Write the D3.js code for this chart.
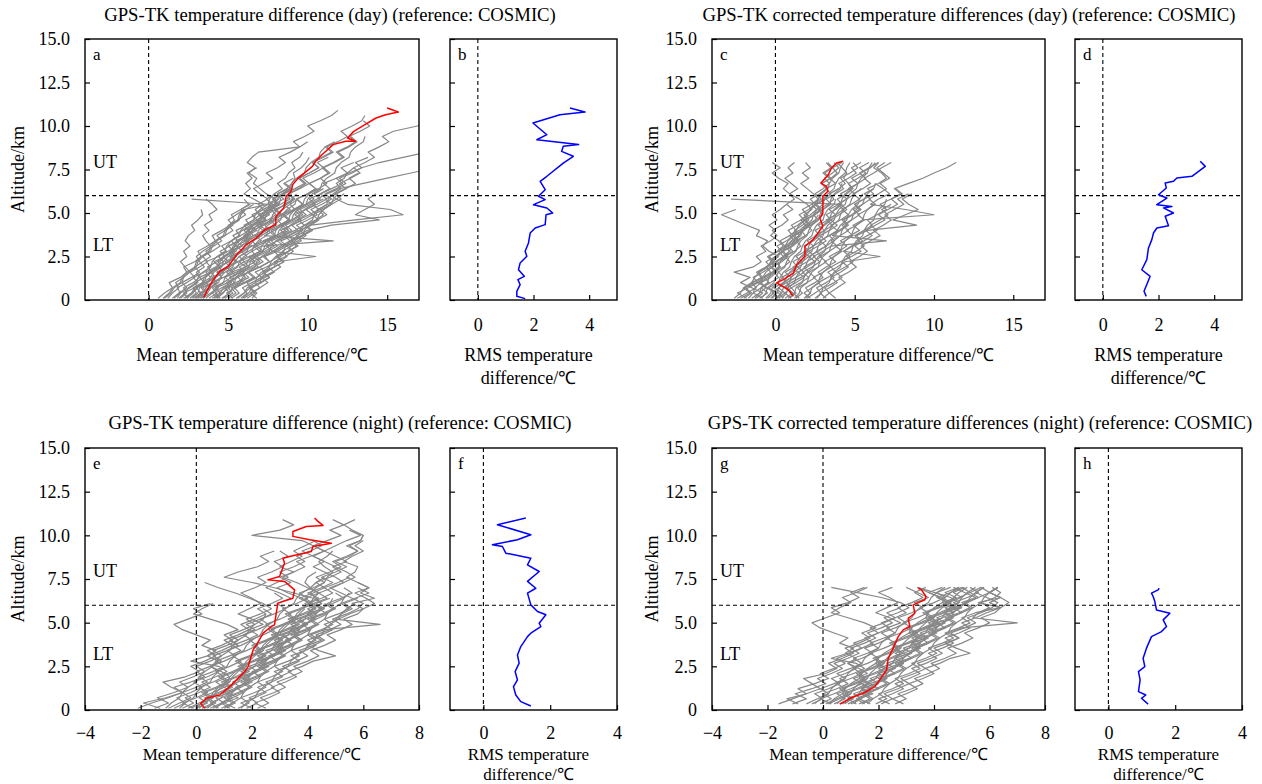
<!DOCTYPE html>
<html><head><meta charset="utf-8">
<script src="https://cdn.jsdelivr.net/npm/d3@7/dist/d3.min.js"></script>
<style>body{margin:0;background:#fff;} svg text{font-family:"Liberation Serif","Times New Roman",serif;fill:#000;}</style>
</head><body><svg id="chart" width="1262" height="784"></svg>
<script>
// ---------------- DATA ----------------
const altTicks = [0, 2.5, 5, 7.5, 10, 12.5, 15];
const ticksDayMean = [0, 5, 10, 15];
const ticksNightMean = [-4, -2, 0, 2, 4, 6, 8];
const ticksRms = [0, 2, 4];
const boundaryAlt = 6;

const titles = [
  "GPS-TK temperature difference (day) (reference: COSMIC)",
  "GPS-TK corrected temperature differences (day) (reference: COSMIC)",
  "GPS-TK temperature difference (night) (reference: COSMIC)",
  "GPS-TK corrected temperature differences (night) (reference: COSMIC)"
];
const meanLabel = ["Mean temperature difference/\u2103"];
const rmsLabel = ["RMS temperature", "difference/\u2103"];

// mean / RMS profiles [temperature difference, altitude km]
const meanDay = [[3.48,0.15],[3.65,0.5],[4.0,1.07],[4.48,1.65],[5.0,1.93],[5.63,2.7],[6.15,3.18],[6.77,3.56],[7.3,4.04],[8.0,4.33],[8.0,4.8],[8.5,5.29],[8.65,5.96],[8.96,6.25],[9.06,6.63],[9.4,7.0],[10.3,7.68],[10.5,7.97],[10.9,8.35],[11.6,8.93],[12.4,9.12],[13.0,9.12],[12.5,9.31],[12.9,9.69],[13.6,10.08],[14.3,10.46],[14.9,10.65],[15.7,10.8],[15.0,11.03]];
const rmsDay = [[1.70,0.08],[1.40,0.21],[1.40,0.5],[1.52,0.88],[1.44,1.17],[1.67,1.36],[1.46,1.74],[1.52,2.13],[1.76,2.51],[1.70,2.80],[1.82,3.28],[1.88,3.85],[2.06,4.14],[2.42,4.33],[2.45,4.90],[2.69,5.0],[2.48,5.29],[2.0,5.48],[2.42,5.77],[2.18,5.96],[2.42,6.34],[2.24,6.82],[2.48,7.11],[3.07,7.87],[3.43,8.26],[3.01,8.54],[3.07,8.83],[3.62,8.93],[2.12,9.21],[2.48,9.50],[1.98,10.17],[2.95,10.65],[3.85,10.80],[3.31,11.03]];
const meanDayCorr = [[1.13,0.21],[0.82,0.59],[0.08,0.98],[0.50,1.17],[1.13,1.55],[1.34,2.03],[1.86,2.51],[1.86,3.08],[2.38,3.47],[2.99,4.23],[2.80,4.71],[2.99,5.0],[2.99,5.96],[3.31,6.25],[3.22,6.53],[2.87,6.72],[3.33,7.2],[3.54,7.59],[3.64,7.68],[3.85,7.87],[4.27,7.97]];
const rmsDayCorr = [[1.56,0.21],[1.48,0.5],[1.70,1.36],[1.40,1.74],[1.58,2.32],[1.64,2.99],[1.76,3.47],[1.82,3.85],[1.94,4.14],[2.36,4.27],[2.24,4.81],[2.54,5.0],[2.18,5.29],[2.48,5.38],[1.94,5.48],[2.30,5.86],[2.0,6.05],[2.28,6.44],[2.24,6.72],[2.54,6.82],[2.66,7.01],[3.20,7.11],[3.68,7.68],[3.50,7.97]];
const meanNight = [[0.30,0.10],[0.16,0.38],[0.36,0.67],[0.84,0.86],[1.20,1.34],[1.56,1.91],[1.74,2.20],[1.86,2.48],[2.04,3.44],[2.16,3.73],[2.40,4.40],[2.69,4.78],[2.81,4.87],[2.87,5.54],[2.93,6.12],[3.47,6.40],[3.53,6.88],[3.17,7.36],[2.57,7.45],[2.99,7.64],[3.17,8.41],[3.11,8.69],[3.35,8.79],[4.13,9.08],[4.19,9.36],[4.85,9.55],[4.07,9.75],[3.47,9.94],[3.47,10.22],[3.95,10.51],[4.55,10.57],[4.37,10.80],[4.25,10.99]];
const rmsNight = [[1.42,0.23],[1.12,0.48],[0.97,0.86],[0.90,1.34],[1.02,1.72],[0.95,2.20],[1.07,2.68],[1.02,3.15],[1.12,3.63],[1.32,4.20],[1.42,4.40],[1.72,4.78],[1.67,4.97],[1.87,5.45],[1.62,5.64],[1.42,6.02],[1.32,6.69],[1.57,6.97],[1.32,7.36],[1.67,7.93],[1.32,8.31],[1.42,8.69],[0.67,8.98],[0.57,9.36],[0.27,9.46],[1.02,9.75],[1.42,10.03],[0.42,10.61],[1.27,10.99]];
const meanNightCorr = [[0.61,0.34],[0.97,0.67],[1.45,0.96],[1.87,1.34],[2.17,2.01],[2.29,2.29],[2.35,2.96],[2.53,3.54],[2.71,4.20],[2.89,4.59],[3.13,4.78],[3.07,5.25],[3.31,5.54],[3.25,6.02],[3.67,6.31],[3.71,6.50],[3.55,6.88],[3.43,6.97]];
const rmsNightCorr = [[1.19,0.34],[0.99,0.67],[1.12,0.86],[0.90,1.05],[0.95,1.72],[0.90,2.20],[1.09,2.48],[1.04,2.96],[1.14,3.54],[1.29,4.20],[1.59,4.49],[1.74,4.78],[1.64,5.16],[1.84,5.54],[1.44,5.73],[1.39,6.21],[1.34,6.50],[1.29,6.69],[1.49,6.88],[1.52,6.97]];

// individual profiles: temperature difference at successive altitude levels
const levelsDay = {start: 0.1, step: 0.3};
const levelsNight = {start: 0.1, step: 0.3};
const levelsNightCorr = {start: 0.35, step: 0.29};

const grayDay = [
[0.6,1.0,1.5,1.3,2.0,2.4,2.2,2.9,3.3,3.1,3.7,4.2,4.0,4.6,5.1,5.4,5.2,5.8,6.3,6.0],
[1.8,2.0,2.6,3.1,2.8,3.5,3.9,3.6,4.4,4.9,4.6,5.2,5.7,5.5,6.2,6.8,6.5,7.2,7.8,7.4,8.0],
[2.5,2.2,2.9,3.5,3.2,3.9,4.5,4.1,4.8,5.4,5.0,5.7,6.3,6.0,6.6,7.3,6.9,7.6,8.1,7.8,8.5,9.0,8.6],
[3.0,3.6,3.3,4.0,4.6,4.3,5.1,5.6,5.2,6.0,6.5,6.1,6.9,7.4,7.0,7.8,8.3,7.9,8.7,9.2,8.8,9.5,10.1,9.7,10.4,11.0,10.6,11.3],
[4.0,4.5,4.2,5.0,5.6,5.2,6.1,6.7,6.3,7.1,7.6,7.2,8.0,8.6,8.2,9.0,9.5,9.1,9.9,10.4,10.0,10.7,11.2,10.8],
[5.0,5.5,5.2,6.0,6.6,6.2,7.0,7.6,7.3,8.1,8.7,8.3,9.1,9.7,9.3,10.0,10.6,10.2,10.9,11.5,11.1,11.8,12.4,12.0,12.8,13.4,13.0,13.8],
[6.5,6.8,6.4,7.1,7.6,7.2,7.9,8.5,8.0,8.8,9.3,8.9,9.6,10.2,9.8,10.5,11.0,10.6,11.3,11.8,11.4],
[4.5,4.2,4.9,5.4,5.1,5.8,6.3,6.0,6.7,7.2,6.8,7.5,8.0,7.7,8.4,8.9,8.5,9.2,9.7,9.3,10.0,10.5,10.1,10.8,11.3,10.9,11.6,12.2,11.8,12.5,13.0,12.6,13.3,13.9,13.5],
[1.2,1.5,1.9,1.7,2.2,2.6,2.3,2.0,2.4,2.2,2.6,2.3,2.5,2.9,2.7,3.1,3.4,3.3],
[2.0,2.4,2.2,2.8,3.2,3.0,3.5,3.2,3.0,3.4,3.9,3.6,3.4,3.8,3.5,4.0,3.8,4.3,4.0,3.6],
[3.5,3.2,3.8,4.3,4.0,4.6,5.1,4.8,5.4,5.9,5.5,6.1,6.6,6.3,6.9,7.4,7.0,7.7,8.2,7.8,8.4,8.9,8.5,9.1],
[2.8,3.3,3.9,3.6,4.1,4.7,4.4,5.0,5.5,5.1,5.8,6.3,6.0,6.6,7.2,6.8,7.4,8.0,7.6,8.2],
[4.8,5.3,5.0,5.7,6.3,5.9,6.6,7.2,6.8,7.5,8.1,7.7,8.4,9.0,8.6,9.3,9.9,9.5,10.2,10.8,10.4,11.0],
[5.8,6.2,5.9,6.5,7.1,6.7,7.4,8.0,10.5,7.8,8.3,8.9,8.5,9.2,9.8,9.4,10.1,10.7,10.3,11.0],
[4.2,4.6,5.1,4.9,5.5,6.0,5.7,6.3,6.8,6.5,7.1,11.6,7.3,7.9,8.4,8.1,8.7,9.2,8.9,9.4],
[5.5,6.0,6.4,6.2,6.8,7.3,7.0,7.6,8.2,7.9,8.5,9.1,8.8,9.5,10.2,13.0,16.0,15.2,12.5,11.8,12.3],
[6.0,6.5,7.0,6.7,7.3,7.9,7.5,8.2,8.7,8.4,9.0,9.6,9.3,10.0,11.5,14.5,13.0,13.6,14.2,13.8,14.3],
[3.8,4.3,4.0,4.7,5.2,4.9,5.5,6.0,5.7,6.3,6.8,6.5,7.1,7.6,7.3,7.9,8.4,8.0,8.6,9.1,8.8,9.4,9.9,9.5,10.1,10.7,10.3,10.9,11.5,11.1,11.7],
[2.2,2.7,3.1,2.9,3.5,4.0,3.7,4.3,4.8,4.5,5.1,5.6,5.3,5.9,6.4,6.1,6.7,7.2,6.9,7.5,7.0,6.6,7.2,7.8,7.4,8.1,8.6,8.2,8.9,9.5,9.1,9.8,10.4,10.0,10.8,11.5,11.9],
[6.8,6.4,7.0,7.5,7.1,7.8,8.3,7.9,8.6,9.1,8.7,9.4,9.9,9.5,10.2,10.7,10.3,11.0,11.5,11.1,11.8,12.4,12.0,12.7,13.3,12.9,13.6,14.2,13.8,14.5,15.1,14.7,15.4,16.9,17.6],
[5.2,5.7,5.4,6.1,6.7,6.3,7.0,7.6,7.2,7.9,8.5,8.1,8.8,9.4,9.0,9.7,10.3,9.9,10.6,11.2,10.8,11.5,12.2,11.8,12.6,13.4,14.5,16.0,17.5],
[4.6,5.1,4.8,5.5,6.1,5.7,6.4,7.0,6.6,7.3,7.9,7.5,8.2,8.8,8.4,9.1,9.7,9.3,10.0,10.6,11.2,12.0,13.5,15.0,16.5,18.0],
[3.2,3.7,3.4,4.1,4.6,4.3,4.9,5.5,5.1,5.8,6.3,6.0,6.6,7.2,6.8,7.5,8.0,7.7,8.3,8.9,8.5,9.2,9.8,9.4,10.1,10.7,10.3,11.0,11.6,11.2,11.9,12.5,12.1,12.8,13.4,13.6],
[4.4,4.0,4.6,5.2,4.8,5.5,6.1,5.7,6.4,7.0,6.6,7.3,7.9,7.5,8.2,8.8,8.4,9.1,9.7,9.3,10.0,10.5,10.1,10.8,11.4,11.0,11.7,12.3,11.9,12.6,13.1,12.7],
[3.0,3.4,3.9,3.6,4.2,4.7,4.4,5.0,5.5,5.2,5.8,6.3,6.0,6.6,7.1,6.8,7.3,7.8,7.5,8.0,7.4,7.0,6.6,6.8,6.3,6.7,6.2,6.5,6.9,9.5,10.0],
[2.6,3.0,2.8,3.4,3.9,3.6,4.2,4.7,4.4,5.0,5.5,5.2,5.8,6.3,6.0,6.6,7.0,6.7,7.2,6.6,6.0,6.4,6.1,6.5,6.2,6.8],
[1.5,1.9,2.4,2.1,2.7,3.2,2.9,3.4,3.9,3.6,4.1,4.6,4.3,4.8,5.3,5.0,5.5,6.0,7.5,2.7],
[2.9,3.3,3.0,3.7,4.2,3.9,4.5,5.0,4.7,5.3,5.9,5.5,6.2,6.8,6.4,7.0,7.6,7.2,7.9,8.5,8.1,8.8],
[5.3,4.9,5.5,6.0,5.6,6.3,6.9,6.5,7.2,7.8,7.4,8.1,8.7,8.3,9.0,9.6,9.2,9.9,10.5,10.1,10.8,11.4,11.0,11.8,12.5,12.1,12.9],
[3.4,3.9,4.4,4.1,4.7,5.3,4.9,5.6,6.2,5.8,6.5,7.1,6.7,7.4,8.0,7.6,8.3,8.9,8.5,9.2],
[1.6,2.0,1.8,2.4,2.9,2.6,3.2,3.7,3.4,4.0,4.5,4.2,4.8,5.3,5.0,5.6,6.1,5.8,6.4],
[6.2,6.7,6.3,7.0,7.6,7.2,7.9,8.5,8.1,8.8,9.4,9.0,9.7,10.3,9.9,10.6,11.2,10.8,11.5,12.1,11.7,12.4,13.0,12.6,13.2],
[2.3,2.7,2.9,3.4,3.5,3.8,4.3,4.4,4.7,5.2,5.3,5.6,6.1,6.2,6.5,7.0,7.1,7.4,7.9,8.0],
[3.1,3.4,3.6,4.1,4.2,4.5,5.0,5.1,5.4,5.9,6.0,6.3,6.8,6.9,7.2,7.7,7.8,8.1,8.6,8.7,9.0],
[1.0,1.4,1.6,2.1,2.2,2.5,3.0,3.1,3.4,3.9,4.0,4.3,4.8,4.9,5.2,5.7,5.8,6.1,6.6],
[4.1,4.5,4.7,5.2,5.3,5.6,6.1,6.2,6.5,7.0,7.1,7.4,7.9,8.0,8.3,8.8,8.9,9.2,9.7,9.8,10.1,10.6],
[2.7,3.1,3.2,3.7,3.9,4.1,4.6,4.7,5.0,5.5,5.6,5.9,6.4,6.5,6.8,7.3,7.4,7.7,8.2,8.3,8.1,8.7,9.0,9.2,9.1,9.6,9.9,10.1],
[3.6,4.0,4.2,4.7,4.8,5.1,5.6,5.7,6.0,6.5,6.6,6.9,7.4,7.5,7.8,8.3,8.4,8.7,9.2,9.3],
[5.6,6.0,6.2,6.7,6.8,7.1,7.6,7.7,8.0,8.5,8.6,8.9,9.4,9.5,9.8,10.3,10.4,10.7,11.2,11.3,11.6,12.1,11.8,12.3,12.5,12.9],
[1.9,2.3,2.5,3.0,3.1,3.4,3.9,4.0,4.3,4.8,4.9,5.2,5.7,5.8,6.1,6.6,6.7,7.0,7.5,7.6,7.9,8.4,8.1,8.6,8.8,9.2,9.0,9.5,9.7],
[4.7,5.1,5.3,5.8,5.9,6.2,6.7,6.8,7.1,7.6,7.7,8.0,8.5,8.6,8.9,9.4,9.5,9.8,10.3],
[2.4,2.8,3.0,3.5,3.6,3.9,4.4,4.5,4.8,5.3,5.4,5.7,6.2,6.3,6.6,7.1,7.2,7.5,8.0,8.1,8.4,8.9,9.0,9.3,9.8,9.9,10.2,10.7,10.8,11.1],
[3.3,3.7,3.9,4.4,4.5,4.8,5.3,5.4,5.7,6.2,6.3,6.6,7.1,7.2,7.5,8.0,8.1,8.4,8.9,9.0,9.3],
[0.9,1.3,1.5,2.0,2.1,2.4,2.9,3.0,3.3,3.8,3.9,4.2,4.7,4.8,5.1,5.6,5.7,6.0],
[5.9,6.3,6.5,7.0,7.1,7.4,7.9,8.0,8.3,8.8,8.9,9.2,9.7,9.8,10.1,10.6,10.7,11.0,11.5,11.6,11.9],
[4.3,4.7,4.9,5.4,5.5,5.8,6.3,6.4,6.7,7.2,7.3,7.6,8.1,8.2,8.5,9.0,9.1,9.4,9.9,10.0,10.3,10.8,10.9,11.2,11.7,11.8,12.1,12.6,12.7,13.0,13.5,13.6]
];

const grayDayCorr = [
[-2.4,-1.8,-1.2,-1.5,-0.8,-0.3,-0.6,0.1,0.5,0.2,0.8,1.2,0.9,1.5,1.9,1.6,2.2,2.6,2.3,2.9,2.5,3.0,3.4,3.1,3.6,4.0,3.7],
[-1.2,-0.8,-1.5,-2.2,-1.6,-2.6,-1.4,-0.9,-1.2,-0.6,-0.9,-0.3,0.1,-0.2,0.4,0.8,0.5,1.1,0.7,1.2,0.9,1.4,1.0,0.6,1.1,0.8,1.2],
[0.5,0.2,-0.5,-1.1,-0.7,-0.2,0.3,0.0,0.6,1.1,0.8,1.4,1.9,1.6,2.2,2.7,2.4,3.0,3.5,3.2,3.8,4.3,4.0,4.6,5.1,4.8,5.4],
[1.5,1.1,0.6,1.0,1.6,2.1,1.8,2.4,2.9,2.6,3.2,3.7,3.4,4.0,4.5,4.2,4.8,5.3,5.0,5.6,6.2,5.8,6.5,7.0,6.7,6.2,6.5],
[2.5,2.9,2.6,3.2,3.7,3.3,3.9,4.4,6.6,4.3,4.8,5.3,5.0,5.6,6.1,5.8,6.4,7.0,6.6,7.3,7.9,7.5,8.4,9.3,10.0,10.8,11.4],
[0.8,1.3,1.0,1.6,2.1,1.7,2.3,2.8,2.4,3.0,3.5,7.0,3.6,4.1,4.6,4.3,4.9,5.4,5.0,5.6],
[1.8,2.2,1.9,2.5,3.0,2.7,3.2,3.8,3.4,4.0,4.5,4.1,4.7,5.3,4.9,5.5,10.0,8.2,6.0,6.5,7.2,6.8,6.3],
[2.0,2.5,3.0,2.7,3.3,3.8,3.5,4.1,4.7,4.3,4.9,5.5,5.1,5.8,8.9,7.4,8.2,9.0,8.4,8.0,8.6],
[-0.5,-0.1,-0.4,0.1,0.5,0.2,0.0,-0.3,0.2,-0.4,-0.8,-0.5,-1.2,-1.0,-1.8,-2.6,-3.4,-2.5],
[0.2,0.6,1.0,0.7,1.3,1.8,1.4,2.0,2.5,2.1,2.7,3.2,2.8,3.4,3.9,3.5,4.0,4.5,4.1,-2.8],
[-1.5,-1.0,-0.6,-0.9,-0.3,0.1,-0.2,0.4,0.8,0.5,1.1,1.5,1.2,1.8,2.2,1.9,2.5,2.9,2.6,3.2,2.8,3.3,2.9,3.5,3.1,3.6,3.3],
[-0.8,-1.4,-0.9,-0.4,-0.7,-0.1,0.3,0.0,0.5,0.9,0.6,1.1,1.5,1.2,1.7,2.1,1.8,2.3,2.0,1.5,0.9,0.5,0.8,0.2,-0.2,0.3,-0.2],
[3.0,3.4,3.1,3.7,4.2,3.8,4.4,4.9,4.5,5.1,5.6,5.2,5.8,6.4,6.0,6.6,7.1,6.7,7.3],
[0.0,0.4,-0.1,0.5,1.0,0.6,1.2,1.7,1.3,1.9,2.4,2.0,2.6,3.1,2.7,3.3,3.8,3.4,4.0,4.5,4.1,4.7,5.2,4.8,5.4,6.0,6.3],
[-2.0,-1.5,-1.9,-1.2,-0.8,-1.1,-0.5,-0.1,-0.4,0.2,0.6,0.3,0.9,1.3,1.0,1.6,2.0,1.7,2.3,2.7,2.4,2.0,1.6,2.1,1.7,2.2,1.9],
[1.0,0.6,0.2,0.5,1.0,1.4,1.1,1.7,2.1,1.8,2.4,2.9,2.5,3.1,3.6,3.2,3.8,4.3,3.9,4.5,5.0,4.6,5.2,5.7,5.3,5.9,6.5],
[3.8,3.4,3.9,4.4,4.0,4.6,5.1,4.7,5.3,5.8,5.4,6.0,6.6,6.2,6.8,7.3,6.9,7.5,8.1,7.7,8.4],
[-1.8,-2.4,-1.7,-1.1,-1.4,-0.8,-0.3,-0.6,0.0,0.4,0.1,0.7,1.1,0.8,1.4,1.8,1.5,2.1,2.5,2.2,2.8,3.2,2.9,3.5,3.9,3.6,4.2],
[0.3,-0.2,0.2,0.7,0.4,1.0,1.4,1.1,1.7,2.1,1.8,2.4,2.8,2.5,3.1,3.5,3.2,3.8,4.2,3.9,4.5,4.9,4.6,5.2,5.7,5.3,5.9],
[-2.2,-1.6,-2.0,-1.4,-0.9,-1.2,-0.6,-0.2,-0.5,0.1,0.5,0.2,-0.3,0.0,-0.4,0.1,-0.2,0.3,0.7],
[2.2,1.8,2.3,2.8,2.4,3.0,3.5,3.1,3.7,4.2,3.8,4.4,4.9,4.5,5.1,5.6,5.2,5.8,6.3,5.9,6.5,7.0,6.6,7.2,6.8,6.4,6.9],
[-0.3,0.1,-0.6,-1.0,-0.5,0.0,-0.3,0.3,0.7,0.4,1.0,1.4,1.1,1.7,2.1,1.8,2.4,2.8,2.5,3.1,3.5,3.2,3.8,3.4,3.0,3.5,3.2],
[1.3,1.7,1.4,2.0,2.5,2.1,2.7,3.2,2.8,3.4,3.9,3.5,4.1,4.6,4.2,4.8,5.3,4.9,5.5,6.0,5.6,6.2],
[-1.0,-0.5,-0.9,-0.3,0.2,-0.1,0.5,0.9,0.6,1.2,1.6,1.3,1.9,2.3,2.0,2.6,3.0,2.7,3.3,3.7,3.4,4.0,4.4,4.1,4.7,5.2,4.9],
[3.2,2.8,3.4,3.9,3.5,4.1,4.6,4.2,4.8,5.4,5.0,5.6,6.1,5.7,6.3,6.9,6.5,7.1,7.7,7.3,8.0,7.6],
[0.6,1.1,0.7,1.3,1.8,1.4,2.0,2.5,2.1,2.7,3.2,2.8,3.4,3.9,3.5,4.1,4.6,4.2,4.8,5.3,4.9,5.5,6.0,5.6,6.2,6.7,7.3],
[-0.6,-0.3,-0.2,0.2,0.3,0.5,0.9,1.0,1.2,1.6,1.7,1.9,2.3,2.4,2.6,3.0,3.1,3.3,3.7,3.8],
[0.9,1.2,1.3,1.7,1.8,2.0,2.4,2.5,2.7,3.1,3.2,3.4,3.8,3.9,4.1,4.5,4.6,4.8,5.2,5.3,5.5],
[-1.3,-1.0,-0.9,-0.5,-0.4,-0.2,0.2,0.3,0.5,0.9,1.0,1.2,1.6,1.7,1.9,2.3,2.4,2.6,3.0,3.1,3.3,3.7,3.8,4.0,4.4,4.5,4.7],
[1.9,2.2,2.3,2.7,2.8,3.0,3.4,3.5,3.7,4.1,4.2,4.4,4.8,4.9,5.1,5.5,5.6,5.8,6.2],
[-0.2,0.1,0.2,0.6,0.7,0.9,1.3,1.4,1.6,2.0,2.1,2.3,2.7,2.8,3.0,3.4,3.5,3.7,4.1,4.2,4.4,4.8,4.6,4.3,4.5,4.2,3.9],
[0.4,0.7,0.8,1.2,1.3,1.5,1.9,2.0,2.2,2.6,2.7,2.9,3.3,3.4,3.6,4.0,4.1,4.3,4.7,4.8,5.0,5.4],
[-1.7,-1.4,-1.3,-0.9,-0.8,-0.6,-0.2,-0.1,0.1,0.5,0.6,0.8,1.2,1.3,1.5,1.9,2.0,2.2,2.6,2.7,2.9,3.3,3.4,3.6,4.0,4.1,4.3],
[1.2,1.5,1.6,2.0,2.1,2.3,2.7,2.8,3.0,3.4,3.5,3.7,4.1,4.2,4.4,4.8,4.9,5.1,5.5,5.6,5.8,6.2,6.3],
[0.1,0.4,0.5,0.9,1.0,1.2,1.6,1.7,1.9,2.3,2.4,2.6,3.0,3.1,3.3,3.7,3.8,4.0,4.4,4.5,4.7,5.1,5.2,5.4,5.8,5.9,6.1],
[-2.6,-2.2,-2.0,-1.5,-1.3,-1.0,-0.5,-0.3,0.0,0.5,0.7,1.0,1.5,1.7,2.0,2.5,2.7],
[2.6,2.9,3.0,3.4,3.5,3.7,4.1,4.2,4.4,4.8,4.9,5.1,5.5,5.6,5.8,6.2,6.3,6.5,6.9,7.0],
[-0.9,-0.6,-0.5,-0.1,0.0,0.2,0.6,0.7,0.9,1.3,1.4,1.6,2.0,2.1,2.3,2.7,2.8,3.0,3.4,3.5,3.7,4.1,4.2]
];

const grayNight = [
[-2.1,-1.6,-1.0,-0.5,-0.8,-0.2,0.3,0.0,0.5,0.9,0.6,1.1,1.5,1.2,1.7,2.1,1.8,2.3,2.7,2.4],
[-1.3,-1.9,-1.1,-0.5,-0.9,-1.2,-0.4,0.1,-0.2,0.3,0.7,0.4,0.9,1.3,1.0,1.5,1.1,0.5,-0.1,0.2,0.6],
[0.2,0.6,0.3,0.8,1.2,0.9,1.4,1.8,1.5,2.0,2.4,2.1,2.6,3.0,2.7,3.2,3.6,3.3,3.8,4.2,3.9,4.4,4.0,4.5,4.9,4.5,5.0,5.4,5.0,5.5,5.8,5.4,5.9,6.0,5.6,5.3,5.7],
[1.0,1.4,1.1,1.6,2.0,1.7,2.2,2.6,2.3,2.8,3.2,2.9,3.4,3.8,3.5,4.0,4.4,4.1,4.6,5.0,4.7,5.2,5.6,5.3],
[-0.8,-0.4,-0.7,-0.2,0.2,-0.1,0.4,0.8,0.5,1.0,1.4,1.1,1.6,2.0,1.7,2.2,2.6,2.3,2.8,3.2,2.9,3.4,3.0,2.5,2.9,3.3,3.0,3.5,3.9,3.6,4.1,4.5,4.2],
[0.5,0.9,1.3,1.0,1.5,1.9,1.6,2.1,2.5,2.2,2.7,3.1,2.8,3.3,3.7,3.4,3.9,4.3,4.0,4.5,4.1,3.7,4.2,4.6,4.3,4.8,5.2,4.9,5.4,5.0,4.6,4.2,3.8,2.0,3.0,3.5,3.1],
[2.5,2.1,2.6,3.0,2.7,3.2,3.6,3.3,3.8,4.2,5.0,4.4,4.0,4.5,4.1,4.6,6.6,5.0,5.2,5.6,5.3,5.8],
[0.0,0.4,0.1,0.6,1.0,0.7,1.2,0.9,0.5,0.8,0.4,0.7,0.2,0.5,0.0,-0.5,-0.8,-0.3,0.2,-0.1,0.5],
[1.5,1.9,1.6,2.1,2.5,2.2,2.7,3.1,2.8,3.3,3.7,3.4,3.9,4.3,4.0,4.5,4.9,4.6,5.1,5.5,5.2,5.7,6.2,5.8],
[-0.3,0.1,0.5,0.2,0.7,1.1,0.8,1.3,1.7,1.4,1.9,2.3,2.0,2.5,2.9,2.6,3.1,3.5,3.2,3.7,4.1,3.8,3.3,2.9,3.4,3.0,3.5,3.9,3.6,4.1,4.6,4.2,4.7,5.2,4.8,5.3,4.9],
[0.8,0.5,0.9,1.3,1.0,1.5,1.9,1.6,2.1,2.5,2.2,2.7,3.1,2.8,3.3,3.7,3.4,3.9,4.3,4.0,4.5,4.2,3.5,2.8,2.0,1.0,1.5,2.2,2.6,2.3,2.8],
[-1.5,-1.0,-1.4,-0.8,-0.3,-0.6,-0.1,0.3,0.0,0.5,0.9,0.6,1.1,1.5,1.2,1.7,2.1,1.8,2.3,2.7,2.4,1.9,1.4,0.8,0.3],
[2.0,1.6,2.1,2.5,2.2,2.7,3.1,2.8,3.3,3.7,3.4,3.9,4.3,4.0,4.5,4.9,4.6,5.1,5.5,6.0,5.6,6.4,5.9,6.2,5.8,5.4,5.7,5.8,5.3,5.6,6.0,5.7,6.0],
[0.3,0.7,0.4,0.9,1.3,1.0,1.5,1.9,1.6,2.1,2.5,2.2,2.7,3.1,2.8,3.3,3.7,3.4,3.9,4.3,4.0,4.5,4.9,4.6,5.1,5.5],
[-0.5,-0.1,-0.4,0.1,0.5,0.2,0.7,1.1,0.8,-0.2,0.4,0.9,1.3,1.0,1.5,1.9,1.6,2.1,2.5,2.2,2.7,3.1,2.8],
[1.8,2.2,1.9,2.4,2.8,2.5,3.0,3.4,3.1,3.6,4.0,3.7,4.2,4.6,4.3,4.8,5.2,4.9,5.4,5.8,6.0,5.6,5.2,4.8,5.3,5.7,5.4,5.0,4.6,4.2,4.6,5.0,5.4,5.9,5.5],
[-0.2,0.2,0.6,0.3,0.8,1.2,0.9,1.4,1.8,1.5,2.0,2.4,2.1,2.6,3.0,2.7,3.2,3.6,3.3,3.8,4.2,3.9,4.4,4.0,3.6,3.1,3.5,3.0,3.4,3.8,3.5,3.9,4.3],
[1.2,0.9,1.3,1.7,1.4,1.9,2.3,2.0,2.5,2.9,2.6,3.1,3.5,3.2,3.7,4.1,3.8,4.3,4.7,4.4,4.9,5.3,5.0],
[-1.0,-0.6,-0.2,-0.5,0.0,0.4,0.1,0.6,1.0,0.7,1.2,1.6,1.3,1.8,2.2,1.9,2.4,2.0,1.5,1.9,2.3,2.0,1.6,2.1,2.5,2.2,2.7,3.1,2.8,3.3,3.0],
[0.6,1.0,0.7,1.2,1.6,1.3,1.8,2.2,1.9,2.4,2.8,2.5,3.0,3.4,3.1,3.6,4.0,3.7,4.2,4.6,4.3,4.8],
[2.2,2.6,2.3,2.8,3.2,2.9,3.4,3.8,3.5,4.0,4.4,4.1,4.6,5.0,4.7,5.2,5.6,5.3,5.8,6.0,6.4,6.1,5.7,6.2,5.8],
[-0.1,-0.5,0.0,0.4,0.1,0.6,1.0,0.7,1.2,1.6,1.3,1.8,2.2,1.9,2.4,2.8,2.5,3.0,3.4,3.1,3.6,4.0,3.7,4.2,4.6,4.3,4.8,5.2,4.9,5.4,5.8,5.5,5.9,6.0],
[0.9,1.3,1.0,1.5,1.9,1.6,2.1,2.5,2.2,2.7,3.1,2.8,3.3,3.7,3.4,3.9,4.3,4.0,4.5,4.9,4.6],
[1.4,1.0,1.5,1.1,1.6,2.0,1.7,2.2,2.6,2.3,2.8,3.2,2.9,3.4,3.0,3.5,3.9,3.6,4.1,4.5,4.2,4.7,4.4,4.9,5.3,5.0,4.6,4.2,4.6,4.2,3.8,4.3],
[0.1,0.3,0.6,0.7,0.9,1.2,1.3,1.5,1.8,1.9,2.1,2.4,2.5,2.7,3.0,3.1,3.3,3.6,3.7,3.9],
[0.7,0.9,1.2,1.3,1.5,1.8,1.9,2.1,2.4,2.5,2.7,3.0,3.1,3.3,3.6,3.7,3.9,4.2,4.3,4.5,4.8,4.9],
[-0.6,-0.4,-0.1,0.0,0.2,0.5,0.6,0.8,1.1,1.2,1.4,1.7,1.8,2.0,2.3,2.4,2.6,2.9,3.0,3.2,3.5,3.6,3.8,4.1,3.9,4.0,4.3],
[1.1,1.3,1.6,1.7,1.9,2.2,2.3,2.5,2.8,2.9,3.1,3.4,3.5,3.7,4.0,4.1,4.3,4.6,4.7,4.9,5.2,5.3,5.5],
[0.4,0.6,0.9,1.0,1.2,1.5,1.6,1.8,2.1,2.2,2.4,2.7,2.8,3.0,3.3,3.4,3.6,3.9,4.0,4.2,4.5,4.3,4.1,4.3,4.6,4.7,4.9,4.6,4.4,4.7,4.9],
[-1.1,-0.9,-0.6,-0.5,-0.3,0.0,0.1,0.3,0.6,0.7,0.9,1.2,1.3,1.5,1.8,1.9,2.1,2.4,2.5],
[1.6,1.8,2.1,2.2,2.4,2.7,2.8,3.0,3.3,3.4,3.6,3.9,4.0,4.2,4.5,4.6,4.8,5.1,5.2,5.4,5.7],
[0.0,0.2,0.5,0.6,0.8,1.1,1.2,1.4,1.7,1.8,2.0,2.3,2.4,2.6,2.9,3.0,3.2,3.5,3.6,3.8,4.1,4.2,4.4,4.1,4.3,4.6]
];

const grayNightCorr = [
[-1.6,-1.1,-0.6,-0.9,-0.3,0.2,-0.1,0.4,0.8,0.5,1.0,1.4,1.1,1.6,2.0,1.7,2.2,2.6,2.3,2.8],
[-0.9,-1.3,-0.6,-0.1,-0.4,-0.7,0.1,0.5,0.2,0.7,1.1,0.8,1.3,1.7,1.4,1.9,1.5,0.9,0.3,0.6,1.0,0.7,1.2,1.6],
[0.6,1.0,0.7,1.2,1.6,1.3,1.8,2.2,1.9,2.4,2.8,2.5,3.0,3.4,3.1,3.6,4.0,3.7,4.2,4.6,4.3,4.8,4.4,4.9],
[1.4,1.8,1.5,2.0,2.4,2.1,2.6,3.0,2.7,3.2,3.6,3.3,3.8,4.2,3.9,4.4,4.8,4.5,5.0,5.4,5.1,5.6,6.0,5.7],
[-0.4,0.0,-0.3,0.2,0.6,0.3,0.8,1.2,0.9,1.4,1.8,1.5,2.0,2.4,2.1,2.6,3.0,2.7,3.2,3.6,3.3,3.8,3.4,3.0],
[0.9,1.3,1.7,1.4,1.9,2.3,2.0,2.5,2.9,2.6,3.1,3.5,3.2,3.7,4.1,3.8,4.3,4.7,4.4,4.9,4.5,4.1,4.6,5.0],
[2.9,2.5,3.0,3.4,3.1,3.6,4.0,3.7,4.2,4.6,5.3,4.8,4.4,4.9,4.5,5.0,7.0,5.4,5.6,6.0,5.7,6.2,6.4,6.1],
[0.4,0.8,0.5,1.0,1.4,1.1,1.6,1.3,0.9,1.2,0.8,1.1,0.6,0.9,0.4,-0.1,-0.4,0.1,0.6,0.3,0.9,1.3,1.0,1.5],
[1.9,2.3,2.0,2.5,2.9,2.6,3.1,3.5,3.2,3.7,4.1,3.8,4.3,4.7,4.4,4.9,5.3,5.0,5.5,6.4,5.6,6.4,6.0,6.3],
[0.1,0.5,0.9,0.6,1.1,1.5,1.2,1.7,2.1,1.8,2.3,2.7,2.4,2.9,3.3,3.0,3.5,3.9,3.6,4.1,4.5,4.2,3.8,4.3],
[1.2,0.9,1.3,1.7,1.4,1.9,2.3,2.0,2.5,2.9,2.6,3.1,3.5,3.2,3.7,4.1,3.8,4.3,4.7,4.4,4.9,4.6,4.0,3.4],
[-1.1,-0.6,-1.0,-0.4,0.1,-0.2,0.3,0.7,0.4,0.9,1.3,1.0,1.5,1.9,1.6,2.1,2.5,2.2,2.7,3.1,2.8,2.1,1.2,0.3],
[2.4,2.0,2.5,2.9,2.6,3.1,3.5,3.2,3.7,4.1,3.8,4.3,4.7,4.4,4.9,5.3,5.0,5.5,5.9,6.4,6.0,6.4,6.0,6.3],
[0.7,1.1,0.8,1.3,1.7,1.4,1.9,2.3,2.0,2.5,2.9,2.6,3.1,3.5,3.2,3.7,4.1,3.8,4.3,4.7,4.4,4.9,5.3,5.0],
[-0.1,0.3,0.0,0.5,0.9,0.6,1.1,1.5,1.2,0.3,0.9,1.4,1.8,1.5,2.0,2.4,2.1,2.6,3.0,2.7,3.2,3.6,3.3,3.7],
[2.1,2.5,2.2,2.7,3.1,2.8,3.3,3.7,3.4,3.9,4.3,4.0,4.5,4.9,4.6,5.1,5.5,5.2,5.7,6.1,6.3,5.9,5.5,5.8],
[0.2,0.6,1.0,0.7,1.2,1.6,1.3,1.8,2.2,1.9,2.4,2.8,2.5,3.0,3.4,3.1,3.6,4.0,3.7,4.2,4.6,4.3,3.8,3.4],
[1.5,1.2,1.6,2.0,1.7,2.2,2.6,2.3,2.8,3.2,2.9,3.4,3.8,3.5,4.0,4.4,4.1,4.6,5.0,4.7,5.2,5.6,5.3,5.7],
[-0.6,-0.2,0.2,-0.1,0.4,0.8,0.5,1.0,1.4,1.1,1.6,2.0,1.7,2.2,2.6,2.3,2.8,2.4,1.9,2.3,2.7,2.4,2.0,2.5],
[1.0,1.4,1.1,1.6,2.0,1.7,2.2,2.6,2.3,2.8,3.2,2.9,3.4,3.8,3.5,4.0,4.4,4.1,4.6,5.0,4.7,5.2,5.6,5.3],
[2.6,3.0,2.7,3.2,3.6,3.3,3.8,4.2,3.9,4.4,4.8,4.5,5.0,5.4,5.1,5.6,6.0,5.7,6.2,6.4,6.7,6.4,6.0,6.3],
[0.3,-0.1,0.4,0.8,0.5,1.0,1.4,1.1,1.6,2.0,1.7,2.2,2.6,2.3,2.8,3.2,2.9,3.4,3.8,3.5,4.0,4.4,4.1,4.6],
[1.3,1.7,1.4,1.9,2.3,2.0,2.5,2.9,2.6,3.1,3.5,3.2,3.7,4.1,3.8,4.3,4.7,4.4,4.9,5.3,5.0,5.5,5.1,4.7],
[1.7,1.3,1.8,1.4,1.9,2.3,2.0,2.5,2.9,2.6,3.1,3.5,3.2,3.7,3.3,3.8,4.2,3.9,4.4,4.8,4.5,5.0,4.7,5.1],
[0.2,0.4,0.7,0.8,1.0,1.3,1.4,1.6,1.9,2.0,2.2,2.5,2.6,2.8,3.1,3.2,3.4,3.7,3.8,4.0,4.3,4.4,4.6,4.9],
[0.8,1.0,1.3,1.4,1.6,1.9,2.0,2.2,2.5,2.6,2.8,3.1,3.2,3.4,3.7,3.8,4.0,4.3,4.4,4.6,4.9,5.0,5.2,5.5],
[-0.3,-0.1,0.2,0.3,0.5,0.8,0.9,1.1,1.4,1.5,1.7,2.0,2.1,2.3,2.6,2.7,2.9,3.2,3.3,3.5,3.8,3.9,4.1,4.4],
[1.6,1.8,2.1,2.2,2.4,2.7,2.8,3.0,3.3,3.4,3.6,3.9,4.0,4.2,4.5,4.6,4.8,5.1,5.2,5.4,5.7,5.8,6.0,6.3],
[0.5,0.7,1.0,1.1,1.3,1.6,1.7,1.9,2.2,2.3,2.5,2.8,2.9,3.1,3.4,3.5,3.7,4.0,4.1,4.3,4.6,4.7,4.9,5.2],
[1.1,1.3,1.6,1.7,1.9,2.2,2.3,2.5,2.8,2.9,3.1,3.4,3.5,3.7,4.0,4.1,4.3,4.6,4.7,4.9,5.2,5.3,5.5,5.8]
];

// ---------------- LAYOUT ----------------
const svg = d3.select('#chart');
const rows = [
  {top: 39, bottom: 300, tickDy: 25, lab1: 55, lab2: 78, titleY: 21, labFs: 18},
  {top: 448, bottom: 710, tickDy: 23, lab1: 44, lab2: 64, titleY: 429, labFs: 17}
];
const panels = [
  {id:'a', row:0, x0:85, x1:419, dom:[-4,17], ticks:ticksDayMean, yLab:true, altX:18, gray:grayDay, lev:levelsDay, line:meanDay, col:'#ff0000', xl:meanLabel, xlDx:0, zones:true},
  {id:'b', row:0, x0:450, x1:617, dom:[-1,5], ticks:ticksRms, yLab:false, line:rmsDay, col:'#0000ff', xl:rmsLabel, xlDx:-5},
  {id:'c', row:0, x0:712, x1:1045, dom:[-4,17], ticks:ticksDayMean, yLab:true, altX:652, gray:grayDayCorr, lev:levelsDay, line:meanDayCorr, col:'#ff0000', xl:meanLabel, xlDx:0, zones:true},
  {id:'d', row:0, x0:1075, x1:1242, dom:[-1,5], ticks:ticksRms, yLab:false, line:rmsDayCorr, col:'#0000ff', xl:rmsLabel, xlDx:0},
  {id:'e', row:1, x0:85, x1:419, dom:[-4,8], ticks:ticksNightMean, yLab:true, altX:18, gray:grayNight, lev:levelsNight, line:meanNight, col:'#ff0000', xl:meanLabel, xlDx:0, zones:true},
  {id:'f', row:1, x0:450, x1:617, dom:[-1,4], ticks:ticksRms, yLab:false, line:rmsNight, col:'#0000ff', xl:rmsLabel, xlDx:-5},
  {id:'g', row:1, x0:712, x1:1045, dom:[-4,8], ticks:ticksNightMean, yLab:true, altX:652, gray:grayNightCorr, lev:levelsNightCorr, line:meanNightCorr, col:'#ff0000', xl:meanLabel, xlDx:0, zones:true},
  {id:'h', row:1, x0:1075, x1:1242, dom:[-1,4], ticks:ticksRms, yLab:false, line:rmsNightCorr, col:'#0000ff', xl:rmsLabel, xlDx:0}
];
const titlePos = [[330,0],[969,0],[340,1],[980,1]];
const FS = 18;
const fmtNum = d => (d < 0 ? '\u2212' : '') + Math.abs(d);

panels.forEach(p => {
  const r = rows[p.row];
  const x = d3.scaleLinear().domain(p.dom).range([p.x0, p.x1]);
  const y = d3.scaleLinear().domain([0, 15]).range([r.bottom, r.top]);
  const g = svg.append('g');
  const clipId = 'clip-' + p.id;
  svg.append('clipPath').attr('id', clipId).append('rect')
    .attr('x', p.x0).attr('y', r.top).attr('width', p.x1 - p.x0).attr('height', r.bottom - r.top);
  const plot = g.append('g').attr('clip-path', `url(#${clipId})`);
  const line = d3.line().x(d => x(d[0])).y(d => y(d[1]));

  if (p.gray) {
    const profs = p.gray.map(xs => xs.map((v, i) => [v, p.lev.start + i * p.lev.step]));
    plot.selectAll('path.gray').data(profs).join('path').attr('class', 'gray')
      .attr('d', line).attr('fill', 'none').attr('stroke', '#878787').attr('stroke-width', 1.2)
      .attr('stroke-linejoin', 'round');
  }
  plot.append('line').attr('x1', x(0)).attr('x2', x(0)).attr('y1', r.top).attr('y2', r.bottom)
    .attr('stroke', '#000').attr('stroke-width', 1.1).attr('stroke-dasharray', '4,3');
  plot.append('line').attr('x1', p.x0).attr('x2', p.x1).attr('y1', y(boundaryAlt)).attr('y2', y(boundaryAlt))
    .attr('stroke', '#000').attr('stroke-width', 1.1).attr('stroke-dasharray', '4,3');
  plot.append('path').datum(p.line).attr('d', line).attr('fill', 'none')
    .attr('stroke', p.col).attr('stroke-width', 1.5).attr('stroke-linejoin', 'round');

  const xa = g.append('g').attr('transform', `translate(0,${r.bottom})`)
    .call(d3.axisBottom(x).tickValues(p.ticks).tickSize(-5).tickFormat(fmtNum));
  xa.select('.domain').remove();
  xa.selectAll('line').attr('stroke', '#000').attr('stroke-width', 1.2);
  xa.selectAll('text').attr('y', r.tickDy).attr('dy', '0.35em')
    .attr('font-family', '"Liberation Serif",serif').attr('font-size', FS);

  const ya = g.append('g').attr('transform', `translate(${p.x0},0)`)
    .call(d3.axisLeft(y).tickValues(altTicks).tickSize(-5).tickPadding(15)
      .tickFormat(p.yLab ? (d => d === 0 ? '0' : d.toFixed(1)) : ''));
  ya.select('.domain').remove();
  ya.selectAll('line').attr('stroke', '#000').attr('stroke-width', 1.2);
  ya.selectAll('text').attr('font-family', '"Liberation Serif",serif').attr('font-size', FS);

  g.append('rect').attr('x', p.x0).attr('y', r.top).attr('width', p.x1 - p.x0).attr('height', r.bottom - r.top)
    .attr('fill', 'none').attr('stroke', '#000').attr('stroke-width', 1.4);

  g.append('text').attr('x', p.x0 + 8).attr('y', r.top + 21).attr('font-size', 17).text(p.id);
  if (p.zones) {
    g.append('text').attr('x', p.x0 + 8).attr('y', y(7.95)).attr('dy', '0.35em').attr('font-size', FS).text('UT');
    g.append('text').attr('x', p.x0 + 8).attr('y', y(3.2)).attr('dy', '0.35em').attr('font-size', FS).text('LT');
  }
  const cx = (p.x0 + p.x1) / 2 + p.xlDx;
  p.xl.forEach((t, i) => {
    g.append('text').attr('x', cx).attr('y', r.bottom + (i === 0 ? r.lab1 : r.lab2)).attr('dy', '0.35em')
      .attr('text-anchor', 'middle').attr('font-size', r.labFs).text(t);
  });
  if (p.yLab) {
    const cy = (r.top + r.bottom) / 2;
    g.append('text').attr('transform', `translate(${p.altX},${cy}) rotate(-90)`).attr('dy', '0.35em')
      .attr('text-anchor', 'middle').attr('font-size', FS).text('Altitude/km');
  }
});

titles.forEach((t, i) => {
  svg.append('text').attr('x', titlePos[i][0]).attr('y', rows[titlePos[i][1]].titleY)
    .attr('text-anchor', 'middle').attr('font-size', 18.7).text(t);
});
</script>
</body></html>
